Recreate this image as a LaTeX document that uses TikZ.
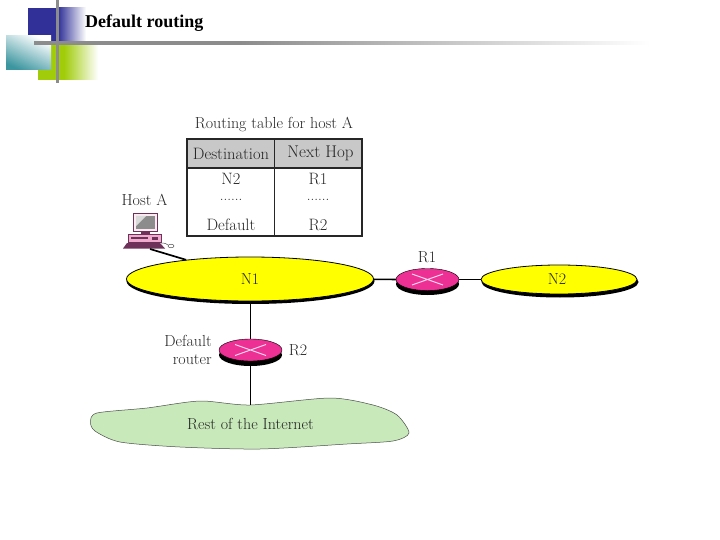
\documentclass[tikz,border=0pt]{standalone}
\usepackage{fontspec}
\usetikzlibrary{shapes.geometric}
\newfontfamily\titlefont{Liberation Serif}
\definecolor{netyellow}{RGB}{255,255,0}
\definecolor{routerpink}{RGB}{236,48,148}
\definecolor{cloudgreen}{RGB}{200,233,185}
\definecolor{headgray}{RGB}{200,200,200}
\definecolor{barblue}{RGB}{48,48,152}
\definecolor{barteal}{RGB}{60,150,160}
\definecolor{bargreen}{RGB}{160,204,10}
\definecolor{bargray}{RGB}{140,140,140}
\definecolor{hostpink}{RGB}{240,170,205}
\definecolor{hostdark}{RGB}{110,50,90}
\tikzset{
 x=1pt,y=-1pt,
 net/.style={ellipse,draw=black,line width=.8pt,fill=netyellow,inner sep=0pt},
 netshadow/.style={ellipse,fill=black,inner sep=0pt},
 routertop/.style={ellipse,fill=routerpink,draw=black,line width=.4pt,minimum width=63pt,minimum height=22pt,inner sep=0pt},
 routerbase/.style={ellipse,fill=black,minimum width=63pt,minimum height=22pt,inner sep=0pt},
 crossline/.style={white!80!routerpink,line width=1pt},
 wire/.style={black,line width=1.7pt},
 grid/.style={black!85,line width=1.1pt},
 label/.style={font=\fontsize{16}{18}\selectfont,text=black!85,inner sep=0pt},
 cell/.style={font=\fontsize{16.5}{18}\selectfont,text=black!85,inner sep=0pt},
 dotcell/.style={font=\fontsize{15}{16}\selectfont,text=black!85,inner sep=0pt},
}
\begin{document}
\begin{tikzpicture}
\useasboundingbox (0,0) rectangle (720,540);
% header decoration
\fill[barblue] (28,8) rectangle (58,43);
\shade[left color=barblue,right color=white] (58,8) rectangle (86,43);
\fill[bargreen] (38,44) rectangle (64,80);
\shade[left color=bargreen,right color=white] (64,44) rectangle (98,80);
\shade[left color=white,right color=barteal,shading angle=-25] (6,36) rectangle (51,70);
\fill[bargray] (34,41.5) rectangle (240,45);
\shade[left color=bargray,right color=white] (240,41.5) rectangle (650,45);
\fill[bargray] (55.5,0) rectangle (59,83);
\node[anchor=base west,inner sep=0pt,font=\titlefont\bfseries\fontsize{18}{20}\selectfont] (title) at (85,28) {Default routing};
% table
\node[label] (tabletitle) at (274,124.5) {Routing table for host A};
\fill[headgray] (187,139) rectangle (362,168);
\draw[grid] (187,139) rectangle (362,236);
\draw[grid] (187,168) -- (362,168);
\draw[grid] (274.5,139) -- (274.5,236);
\node[cell] (h1) at (231,153.5) {Destination};
\node[cell,font=\fontsize{17}{18}\selectfont] (h2) at (320.5,153.5) {Next Hop};
\node[cell] (a1) at (231,178.5) {N2};
\node[cell] (a2) at (318,178.5) {R1};
\node[dotcell] (b1) at (231,200) {......};
\node[dotcell] (b2) at (318,200) {......};
\node[cell] (c1) at (231,224.5) {Default};
\node[cell] (c2) at (318,224.5) {R2};
% networks
\node[netshadow,minimum width=248pt,minimum height=46pt] (n1s) at (250.5,281) {};
\node[net,minimum width=247pt,minimum height=44pt] (n1) at (250,279) {};
\node[label] (n1t) at (250,279.5) {N1};
\node[netshadow,minimum width=157pt,minimum height=31pt] (n2s) at (560,282) {};
\node[net,minimum width=156pt,minimum height=29pt] (n2) at (559,279.5) {};
\node[label] (n2t) at (557,279.5) {N2};
% routers
\node[routerbase] (r1b) at (427.5,284) {};
\node[routertop] (r1) at (427.5,279.5) {};
\draw[crossline] (412,274) -- (443,285) (412,285) -- (443,274);
\node[label] (r1t) at (427,257.5) {R1};
\node[routerbase] (r2b) at (250.5,355) {};
\node[routertop] (r2) at (250.5,350) {};
\draw[crossline] (235,344.5) -- (266,355.5) (235,355.5) -- (266,344.5);
\node[label] (r2t) at (298,350) {R2};
\node[label,align=right,anchor=east,font=\fontsize{16}{18}\selectfont] (deft) at (212,350) {Default\\router};
% cloud
\draw[fill=cloudgreen,draw=black!70,line width=.5pt] plot[smooth cycle,tension=.45] coordinates {
 (90.5,422) (97,413) (147,408) (200,401) (250,405) (330,398) (373,405) (397,415)
 (409,433) (393,441) (347,444) (260,449) (180,447) (120,442) (95,431)};
\coordinate (cloudtop) at (250.5,405);
\node[label] (cloudt) at (250.5,424.5) {Rest of the Internet};
% host
\node[label] (hostt) at (144.5,200) {Host A};
\draw[hostdark,fill=white!75!hostpink,line width=.6pt] (133.5,213.5) rectangle (157,231.5);
\fill[black!45] (136,216) rectangle (154.5,229);
\fill[white!85!black] (136,216) -- (146,216) -- (136,226) -- cycle;
\fill[hostdark] (141,232) rectangle (150,234);
\draw[hostdark,fill=hostpink,line width=.6pt] (128,234.5) rectangle (161,242);
\fill[hostdark] (131,237) rectangle (148,238.5);
\fill[hostdark] (152,237) rectangle (158,240);
\fill[hostdark] (127,243) -- (160,243) -- (165,248.5) -- (123,248.5) -- cycle;
\draw[black!70,line width=.5pt] (161,243) .. controls (166,243) and (166,244) .. (168,245);
\draw[black!70,fill=white,line width=.5pt] (171,246) ellipse (3 and 1.8);
\coordinate (hostport) at (150,249);
% connectors
\draw[wire] (hostport) -- (n1);
\draw[wire] (n1) -- (r1);
\draw[wire] (r1) -- (n2);
\draw[wire] (n1s.south) -- (r2.north);
\draw[wire] (r2b.south) -- (cloudtop);
\end{tikzpicture}
\end{document}
